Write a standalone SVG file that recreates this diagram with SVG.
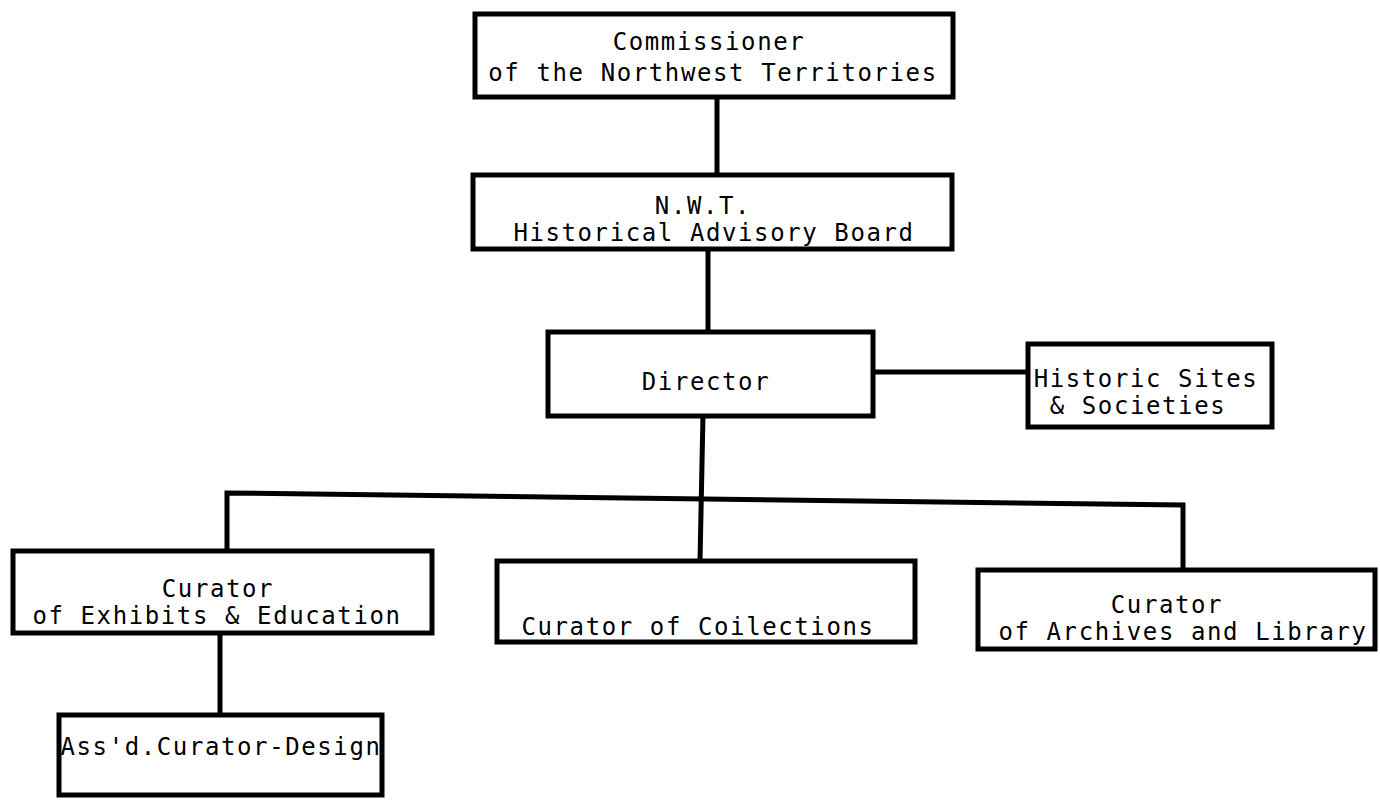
<svg xmlns="http://www.w3.org/2000/svg" width="1380" height="800" viewBox="0 0 1380 800">
<style>
.box{fill:#fff;stroke:#000;stroke-width:5;stroke-linejoin:miter}
.ln{stroke:#000;stroke-width:5;fill:none;stroke-linecap:square}
text{font-family:"DejaVu Sans Mono","Liberation Mono",monospace;font-size:24px;letter-spacing:1.6px;fill:#000;text-anchor:middle}
</style>
<rect width="1380" height="800" fill="#fff"/>
<g id="connectors">
<line class="ln" x1="717" y1="97" x2="717" y2="175"/>
<line class="ln" x1="708" y1="250" x2="708" y2="332"/>
<line class="ln" x1="873" y1="372" x2="1028" y2="372"/>
<line class="ln" x1="703" y1="415" x2="700" y2="561"/>
<polyline class="ln" points="227,552 227,493 1183,505 1183,570"/>
<line class="ln" x1="220" y1="633" x2="220" y2="715"/>
</g>
<g id="commissioner">
<rect class="box" x="475" y="14" width="478" height="83"/>
<text x="709" y="50">Commissioner</text>
<text x="713" y="81">of the Northwest Territories</text>
</g>
<g id="board">
<rect class="box" x="473" y="175" width="479" height="74"/>
<text x="703" y="214">N.W.T.</text>
<text x="714" y="241">Historical Advisory Board</text>
</g>
<g id="director">
<rect class="box" x="548" y="332" width="325" height="84"/>
<text x="706" y="390">Director</text>
</g>
<g id="historic">
<rect class="box" x="1028" y="344" width="244" height="83"/>
<text x="1146" y="387">Historic Sites</text>
<text x="1138" y="414">&amp; Societies</text>
</g>
<g id="exhibits">
<rect class="box" x="13" y="551" width="419" height="82"/>
<text x="218" y="597">Curator</text>
<text x="217" y="624">of Exhibits &amp; Education</text>
</g>
<g id="collections">
<rect class="box" x="497" y="561" width="418" height="81"/>
<text x="698" y="635">Curator of Coilections</text>
</g>
<g id="archives">
<rect class="box" x="978" y="570" width="397" height="79"/>
<text x="1167" y="613">Curator</text>
<text x="1183" y="640">of Archives and Library</text>
</g>
<g id="assd">
<rect class="box" x="59" y="715" width="323" height="80"/>
<text x="221" y="755">Ass'd.Curator-Design</text>
</g>
</svg>
